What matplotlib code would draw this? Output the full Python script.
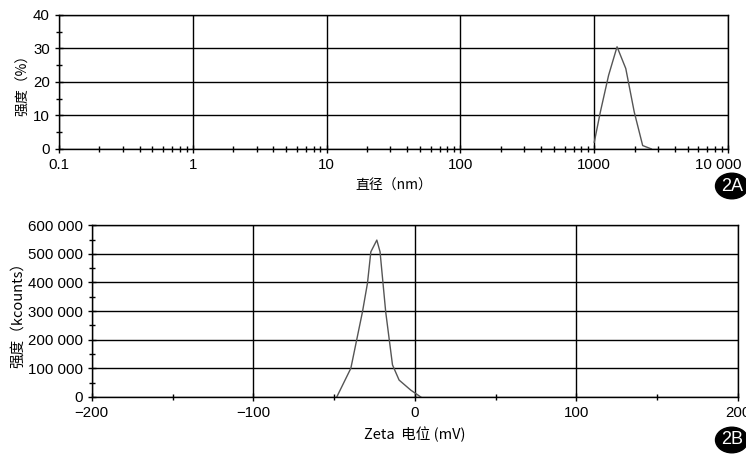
import numpy as np
import matplotlib
matplotlib.use("Agg")
import matplotlib.pyplot as plt
import matplotlib.transforms as mtransforms
from matplotlib.ticker import FixedLocator, FuncFormatter, MultipleLocator

plt.rcParams['font.family'] = ['Liberation Sans', 'Noto Sans CJK SC', 'DejaVu Sans']

# ---- data ----
# 2A: size distribution (intensity %)
size_nm = [1000, 1110, 1280, 1480, 1720, 1990, 2300, 2670]
size_int = [2, 11, 22, 30.5, 24, 11, 1, 0]
size_ticks = [0.1, 1, 10, 100, 1000, 10000]
size_ticklabels = ['0.1', '1', '10', '100', '1000', '10 000']

# 2B: zeta potential distribution (kcounts)
zeta_mv = [-48.3, -39.6, -32.4, -29.3, -27.2, -23.5, -21.5, -18.0, -13.8, -9.7, -2.5, 3.7]
zeta_cnt = [0, 100000, 297000, 397000, 507000, 548000, 507000, 297000, 112000, 59000, 24000, 0]

cjk = ['Noto Sans CJK SC', 'DejaVu Sans']

fig = plt.figure(figsize=(7.46, 4.54), dpi=100)
ax1 = fig.add_axes([0.079, 0.672, 0.897, 0.295])
ax2 = fig.add_axes([0.123, 0.1256, 0.866, 0.3784])

def style(ax):
    ax.grid(True, which='major', color='black', linewidth=1.0)
    for s in ax.spines.values():
        s.set_color('black')
        s.set_linewidth(1.0)
    ax.tick_params(which='major', direction='inout', length=6, width=1.0,
                   labelsize=10.8, colors='black')
    ax.tick_params(which='minor', direction='inout', length=4, width=1.0)
    ax.set_axisbelow(True)

# ---- 2A ----
ax1.plot(size_nm, size_int, color='#555555', linewidth=1.0)
ax1.set_xscale('log')
ax1.set_xlim(0.1, 10000)
ax1.set_ylim(0, 40)
ax1.xaxis.set_major_locator(FixedLocator(size_ticks))
ax1.set_xticklabels(size_ticklabels)
minors = [m * 10.0 ** e for e in range(-1, 4) for m in range(2, 10)]
ax1.xaxis.set_minor_locator(FixedLocator(minors))
ax1.xaxis.set_minor_formatter(FuncFormatter(lambda v, p: ''))
ax1.yaxis.set_major_locator(MultipleLocator(10))
ax1.yaxis.set_minor_locator(MultipleLocator(5))
style(ax1)
# last label sits a bit left of its tick in the reference
last = ax1.get_xticklabels()[-1]
last.set_transform(last.get_transform() +
                   mtransforms.ScaledTranslation(-7 / 72, 0, fig.dpi_scale_trans))
ax1.set_xlabel('直径（nm）', family=cjk, fontsize=10, labelpad=5)
ax1.set_ylabel('强度（%）', family=cjk, fontsize=10, labelpad=2)

# ---- 2B ----
ax2.plot(zeta_mv, zeta_cnt, color='#555555', linewidth=1.0)
ax2.set_xlim(-200, 200)
ax2.set_ylim(0, 600000)
ax2.xaxis.set_major_locator(MultipleLocator(100))
ax2.xaxis.set_minor_locator(MultipleLocator(50))
ax2.yaxis.set_major_locator(MultipleLocator(100000))
ax2.yaxis.set_minor_locator(MultipleLocator(50000))
ax2.xaxis.set_major_formatter(FuncFormatter(lambda v, p: f"{v:.0f}".replace('-', '\u2212')))
ax2.yaxis.set_major_formatter(FuncFormatter(lambda v, p: f"{v:,.0f}".replace(',', ' ')))
style(ax2)
ax2.set_xlabel('Zeta  电位 (mV)', family=cjk, fontsize=10.5, labelpad=5)
ax2.set_ylabel('强度（kcounts）', family=cjk, fontsize=10.5, labelpad=2)

# panel badges
for lbl, y in [('2A', 1 - 186 / 454), ('2B', 1 - 440 / 454)]:
    fig.text(0.981, y, lbl, color='white', fontsize=13, ha='center', va='center',
             bbox=dict(boxstyle='ellipse,pad=0.03', fc='black', ec='black'))

fig.savefig('out.png', dpi=100)
